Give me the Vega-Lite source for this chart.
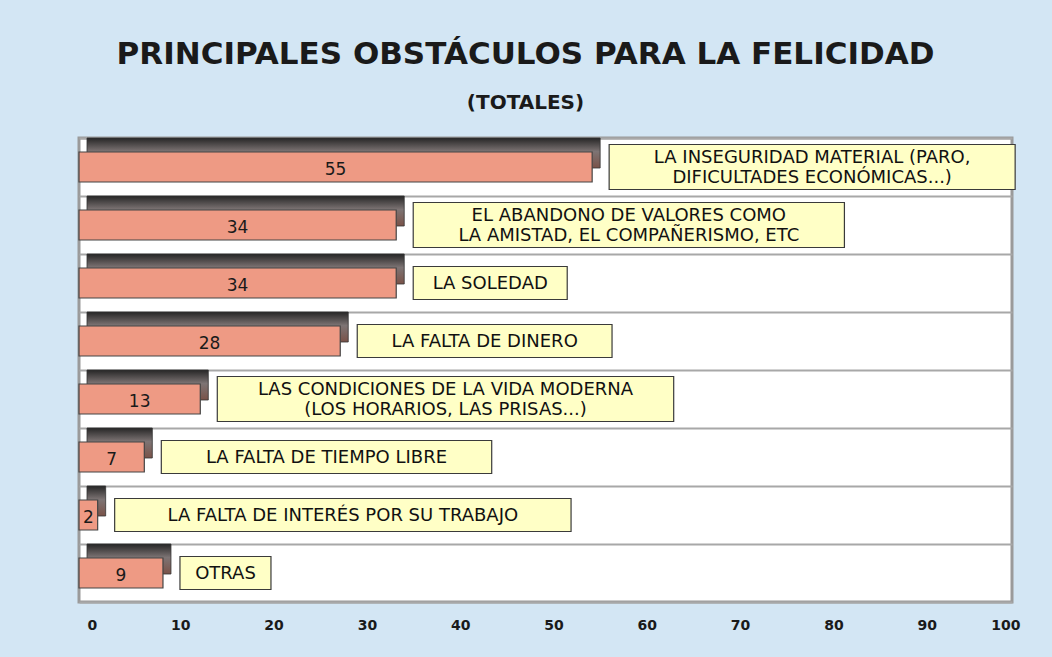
{
  "$schema": "https://vega.github.io/schema/vega-lite/v6.json",
  "width": 933,
  "height": 464,
  "autosize": {"type": "none"},
  "padding": {"left": 79, "top": 138, "right": 40, "bottom": 55},
  "background": "#d3e6f4",
  "config": {
    "view": {"fill": "white", "stroke": "#9a9a9a", "strokeWidth": 3},
    "font": "DejaVu Sans"
  },
  "title": {
    "text": "PRINCIPALES OBSTÁCULOS PARA LA FELICIDAD",
    "subtitle": "(TOTALES)",
    "anchor": "middle",
    "frame": "group",
    "font": "DejaVu Sans",
    "fontSize": 31,
    "fontWeight": "bold",
    "color": "#1a1a1a",
    "subtitleFont": "DejaVu Sans",
    "subtitleFontSize": 20,
    "subtitleFontWeight": "bold",
    "subtitleColor": "#1a1a1a",
    "subtitlePadding": 22,
    "offset": 24,
    "dx": -20
  },
  "data": {
    "values": [
      {"obstaculo": "LA INSEGURIDAD MATERIAL (PARO,\nDIFICULTADES ECONÓMICAS...)", "total": 55},
      {"obstaculo": "EL ABANDONO DE VALORES COMO\nLA AMISTAD, EL COMPAÑERISMO, ETC", "total": 34},
      {"obstaculo": "LA SOLEDAD", "total": 34},
      {"obstaculo": "LA FALTA DE DINERO", "total": 28},
      {"obstaculo": "LAS CONDICIONES DE LA VIDA MODERNA\n(LOS HORARIOS, LAS PRISAS...)", "total": 13},
      {"obstaculo": "LA FALTA DE TIEMPO LIBRE", "total": 7},
      {"obstaculo": "LA FALTA DE INTERÉS POR SU TRABAJO", "total": 2},
      {"obstaculo": "OTRAS", "total": 9}
    ]
  },
  "transform": [
    {"calculate": "indexof(datum.obstaculo, '\\n')", "as": "brk"},
    {"calculate": "datum.brk < 0 ? 1 : 2", "as": "nlines"},
    {"calculate": "datum.brk < 0 ? length(datum.obstaculo) : max(datum.brk, length(datum.obstaculo) - datum.brk - 1)", "as": "maxlen"},
    {"calculate": "datum.total + (12.6 * datum.maxlen + 28) / 9.33", "as": "boxEnd"},
    {"calculate": "(datum.total + datum.boxEnd) / 2", "as": "boxMid"},
    {"calculate": "datum.total / 2", "as": "half"}
  ],
  "encoding": {
    "y": {
      "field": "obstaculo",
      "type": "nominal",
      "sort": null,
      "scale": {"paddingInner": 0, "paddingOuter": 0},
      "axis": {
        "labels": false,
        "ticks": false,
        "domain": false,
        "grid": true,
        "tickBand": "extent",
        "gridColor": "#a8a8a8",
        "gridWidth": 2,
        "title": null
      }
    }
  },
  "layer": [
    {
      "mark": {
        "type": "bar",
        "orient": "horizontal",
        "xOffset": 8,
        "x2Offset": 8,
        "yOffset": -14,
        "fill": {
          "gradient": "linear",
          "x1": 0, "y1": 0, "x2": 0, "y2": 1,
          "stops": [
            {"offset": 0, "color": "#262626"},
            {"offset": 0.45, "color": "#7d7474"},
            {"offset": 1, "color": "#7a5248"}
          ]
        },
        "stroke": "#333333",
        "strokeWidth": 0.8
      },
      "encoding": {
        "x": {
          "field": "total",
          "type": "quantitative",
          "scale": {"domain": [0, 100], "nice": false},
          "axis": {
            "values": [0, 10, 20, 30, 40, 50, 60, 70, 80, 90, 100],
            "grid": false,
            "ticks": false,
            "domain": false,
            "labelFont": "DejaVu Sans",
            "labelFontWeight": "bold",
            "labelFontSize": 14,
            "labelColor": "#1a1a1a",
            "labelPadding": 16,
            "labelOffset": 8,
            "title": null
          }
        },
        "size": {"value": 30}
      }
    },
    {
      "mark": {
        "type": "bar",
        "orient": "horizontal",
        "fill": "#ee9a84",
        "stroke": "#444444",
        "strokeWidth": 1.2
      },
      "encoding": {
        "x": {"field": "total", "type": "quantitative"},
        "size": {"value": 30}
      }
    },
    {
      "mark": {"type": "text", "font": "DejaVu Sans", "fontSize": 17, "color": "#1a1a1a", "baseline": "middle", "dy": 3},
      "encoding": {
        "x": {"field": "half", "type": "quantitative"},
        "text": {"field": "total", "type": "quantitative"}
      }
    },
    {
      "mark": {
        "type": "bar",
        "orient": "horizontal",
        "xOffset": 17,
        "x2Offset": 17,
        "fill": "#ffffc6",
        "stroke": "#3a3a3a",
        "strokeWidth": 1.2
      },
      "encoding": {
        "x": {"field": "total", "type": "quantitative"},
        "x2": {"field": "boxEnd"},
        "size": {"condition": {"test": "datum.nlines == 2", "value": 45}, "value": 33}
      }
    },
    {
      "transform": [{"filter": "datum.nlines == 1"}],
      "mark": {
        "type": "text",
        "font": "DejaVu Sans",
        "fontSize": 18,
        "color": "#111111",
        "align": "center",
        "baseline": "middle",
        "xOffset": 17,
        "dy": 1
      },
      "encoding": {
        "x": {"field": "boxMid", "type": "quantitative"},
        "text": {"field": "obstaculo", "type": "nominal"}
      }
    },
    {
      "transform": [{"filter": "datum.nlines == 2"}],
      "mark": {
        "type": "text",
        "font": "DejaVu Sans",
        "fontSize": 18,
        "color": "#111111",
        "align": "center",
        "baseline": "middle",
        "lineBreak": "\n",
        "lineHeight": 20,
        "xOffset": 17,
        "dy": -9
      },
      "encoding": {
        "x": {"field": "boxMid", "type": "quantitative"},
        "text": {"field": "obstaculo", "type": "nominal"}
      }
    }
  ]
}
